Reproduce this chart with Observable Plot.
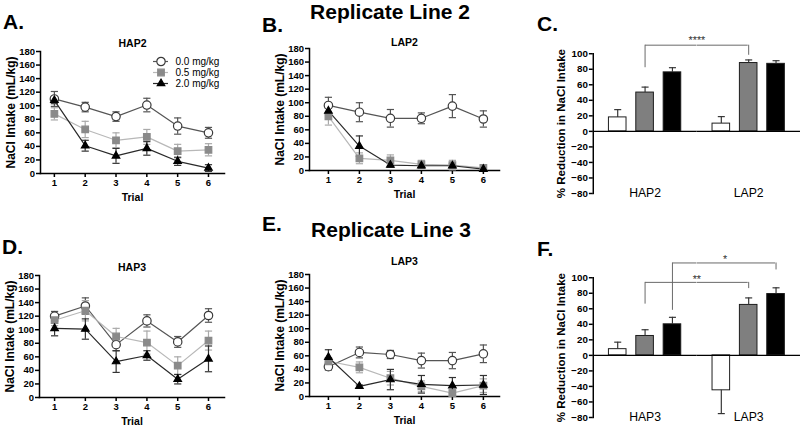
<!DOCTYPE html>
<html><head><meta charset="utf-8">
<script src="https://cdn.jsdelivr.net/npm/d3@7"></script>
<script src="https://cdn.jsdelivr.net/npm/@observablehq/plot@0.6"></script>
<style>
html,body{margin:0;padding:0;background:#fff;overflow:hidden}
#fig{position:relative;width:800px;height:427px;overflow:hidden;font-family:"Liberation Sans",Arial,sans-serif;color:#000}
.panel{position:absolute}
.panel svg{display:block;overflow:visible}
.letter{position:absolute;font-weight:bold;font-size:21px;line-height:1}
.rep{position:absolute;font-weight:bold;font-size:21px;line-height:1;white-space:nowrap;transform:translateX(-50%)}
</style></head><body><div id="fig"></div>
<script>
// ---------- data ----------
const trials = [1, 2, 3, 4, 5, 6];
const doses = ["0.0 mg/kg", "0.5 mg/kg", "2.0 mg/kg"];
const lineTicks = [0, 20, 40, 60, 80, 100, 120, 140, 160, 180];
const barTicks = [-80, -60, -40, -20, 0, 20, 40, 60, 80, 100];

// A. HAP2 (NaCl intake, mL/kg) per trial, one row per dose
const hap2Means = [[110, 98, 84, 101, 70, 60], [88, 65, 49, 54, 33, 35], [108, 41, 26, 37, 18, 8]];
const hap2Sems  = [[11, 7, 7, 10, 12, 8], [9, 12, 11, 11, 10, 9], [5, 8, 11, 10, 6, 5]];
// B. LAP2
const lap2Means = [[96, 86, 77, 77, 95, 76], [80, 18, 15, 9, 8, 4], [88, 36, 8, 7, 7, 2]];
const lap2Sems  = [[12, 14, 13, 8, 17, 12], [13, 8, 8, 6, 7, 3], [4, 15, 3, 3, 3, 2]];
// D. HAP3
const hap3Means = [[120, 135, 78, 113, 82, 121], [114, 128, 90, 81, 47, 84], [102, 101, 53, 62, 27, 57]];
const hap3Sems  = [[7, 12, 9, 9, 8, 10], [8, 15, 12, 17, 13, 14], [11, 15, 16, 7, 7, 19]];
// E. LAP3
const lap3Means = [[44, 65, 62, 53, 53, 63], [52, 43, 27, 15, 5, 16], [58, 15, 25, 18, 16, 17]];
const lap3Sems  = [[5, 8, 6, 11, 12, 13], [5, 8, 10, 8, 5, 10], [11, 2, 15, 13, 12, 14]];

// C. % reduction, Replicate Line 2
const line2Groups = ["HAP2", "LAP2"];
const line2Reduction = [[18, 50, 76], [10, 88, 87]];
const line2ReductionSem = [[10, 7, 6], [9, 4, 4]];
const line2Brackets = [{dose: "0.5 mg/kg", leftLow: 82, rightLow: 98, top: 111, label: "****", labelY: 121}];
// F. % reduction, Replicate Line 3
const line3Groups = ["HAP3", "LAP3"];
const line3Reduction = [[8, 25, 40], [-45, 65, 79]];
const line3ReductionSem = [[9, 8, 9], [30, 9, 8]];
const line3Brackets = [
  {dose: "0.5 mg/kg", leftLow: 66, rightLow: 86, top: 94, label: "**", labelY: 102},
  {dose: "2.0 mg/kg", leftLow: 58, rightLow: 110, top: 119, label: "*", labelY: 127}
];

// ---------- styles ----------
const FONT = '"Liberation Sans", Arial, sans-serif';
const seriesStyle = [
  {line: "#555", err: "#555", symbol: "circle", fill: "white", stroke: "#3a3a3a", r: 4.2},
  {line: "#b8b8b8", err: "#aaaaaa", symbol: "square", fill: "#8a8a8a", stroke: "#8a8a8a", r: 3.7},
  {line: "#2a2a2a", err: "#333", symbol: "triangle", fill: "black", stroke: "black", r: 2.8}
];
const cap = {draw(ctx, size) { const w = Math.sqrt(size / Math.PI); ctx.moveTo(-w, 0); ctx.lineTo(w, 0); }};

const fig = document.getElementById("fig");
function place(node, left, top) {
  const d = document.createElement("div");
  d.className = "panel"; d.style.left = left + "px"; d.style.top = top + "px";
  d.appendChild(node); fig.appendChild(d);
}
function addText(cls, txt, left, top) {
  const d = document.createElement("div");
  d.className = cls; d.textContent = txt; d.style.left = left + "px"; d.style.top = top + "px";
  fig.appendChild(d);
}
const centered = {textAnchor: "middle", lineAnchor: "middle"};

function linePanel({title, titleDy, means, sems, xDomain, width, marginLeft}) {
  const series = doses.map((dose, k) => trials.map((t, i) => ({dose, trial: t, mean: means[k][i], sem: sems[k][i]})));
  const marks = [
    Plot.frame({anchor: "left", stroke: "black", strokeWidth: 1.5}),
    Plot.frame({anchor: "bottom", stroke: "black", strokeWidth: 1.5}),
    Plot.axisY({ticks: lineTicks, tickSize: 4, tickPadding: 1.5, fontSize: 9.5, fontWeight: "bold", strokeWidth: 1.5, label: null}),
    Plot.axisX({ticks: trials, tickSize: 4, tickPadding: 2, fontSize: 9.5, fontWeight: "bold", strokeWidth: 1.5, label: null, tickFormat: d => String(d)}),
    Plot.text([title], {text: d => d, frameAnchor: "top", dy: -titleDy, fontWeight: "bold", fontSize: 10.5, ...centered}),
    Plot.text(["Trial"], {text: d => d, frameAnchor: "bottom", dy: 24, fontWeight: "bold", fontSize: 10.5, ...centered}),
    Plot.text(["NaCl Intake (mL/kg)"], {text: d => d, frameAnchor: "left", dx: -29, rotate: -90, fontWeight: "bold", fontSize: 12, ...centered})
  ];
  series.forEach((rows, k) => {
    const s = seriesStyle[k];
    marks.push(Plot.ruleX(rows, {x: "trial", y1: d => d.mean - d.sem, y2: d => d.mean + d.sem, stroke: s.err, strokeWidth: 1.2}));
    marks.push(Plot.dot(rows, {x: "trial", y: d => d.mean - d.sem, symbol: cap, r: 3.6, fill: "none", stroke: s.err, strokeWidth: 1.2}));
    marks.push(Plot.dot(rows, {x: "trial", y: d => d.mean + d.sem, symbol: cap, r: 3.6, fill: "none", stroke: s.err, strokeWidth: 1.2}));
  });
  series.forEach((rows, k) => {
    const s = seriesStyle[k];
    marks.push(Plot.line(rows, {x: "trial", y: "mean", stroke: s.line, strokeWidth: 1.2}));
  });
  series.forEach((rows, k) => {
    const s = seriesStyle[k];
    marks.push(Plot.dot(rows, {x: "trial", y: "mean", symbol: s.symbol, r: s.r, fill: s.fill, stroke: s.stroke, strokeWidth: 1.2}));
  });
  return Plot.plot({
    width, height: 175, marginLeft, marginRight: 6, marginTop: 21, marginBottom: 32,
    style: {fontFamily: FONT, background: "transparent", color: "black"},
    x: {domain: xDomain, axis: null},
    y: {domain: [0, 180], axis: null},
    marks
  });
}

function legendPanel() {
  const marks = [];
  doses.forEach((dose, k) => {
    const s = seriesStyle[k];
    marks.push(Plot.ruleY([dose], {y: d => d, stroke: s.line, strokeWidth: 1.2, insetRight: 65}));
    marks.push(Plot.dot([dose], {y: d => d, frameAnchor: "left", dx: 7.5, symbol: s.symbol, r: s.r, fill: s.fill, stroke: s.stroke, strokeWidth: 1.2}));
    marks.push(Plot.text([dose], {y: d => d, text: d => d, frameAnchor: "left", dx: 22, textAnchor: "start", lineAnchor: "middle", fontSize: 10}));
  });
  return Plot.plot({
    width: 80, height: 36, marginTop: 7, marginBottom: 7, marginLeft: 0, marginRight: 0,
    style: {fontFamily: FONT, background: "transparent", color: "black"},
    y: {type: "point", domain: doses, padding: 0, axis: null},
    marks
  });
}

function barPanel({groups, values, sems, brackets}) {
  const W = 266, H = 181, ML = 53, MR = 0, MT = 34, MB = 4;
  const pIn = 0.345, pOut = 0.51;
  const fw = (W - ML - MR) / groups.length;
  const step = fw / (doses.length - pIn + 2 * pOut), bw = step * (1 - pIn);
  const center = di => step * pOut + di * step + bw / 2;
  const rows = groups.flatMap((g, gi) => doses.map((dose, di) => ({group: g, dose, value: values[gi][di], sem: sems[gi][di]})));
  const tip = d => d.value + Math.sign(d.value) * d.sem;
  const marks = [
    Plot.barY(rows, {fx: "group", x: "dose", y: "value", fill: "dose", stroke: "#1a1a1a", strokeWidth: 1}),
    Plot.ruleX(rows, {fx: "group", x: "dose", y1: "value", y2: tip, stroke: "#333", strokeWidth: 1.2}),
    Plot.dot(rows, {fx: "group", x: "dose", y: tip, symbol: cap, r: 3.6, fill: "none", stroke: "#333", strokeWidth: 1.2}),
    Plot.ruleY([0], {stroke: "black", strokeWidth: 1.5}),
    Plot.frame({anchor: "left", facetAnchor: "left", stroke: "black", strokeWidth: 1.5}),
    Plot.axisY({ticks: barTicks, tickSize: 4, tickPadding: 1.5, fontSize: 10, fontWeight: "bold", strokeWidth: 1.5, label: null}),
    Plot.text([{group: groups[0], t: "% Reduction in NaCl Intake"}], {fx: "group", text: "t", frameAnchor: "left", dx: -33, rotate: -90, fontWeight: "bold", fontSize: 11.8, ...centered}),
    Plot.text(groups, {fx: d => d, text: d => d, frameAnchor: "bottom", dy: 0, fontSize: 12.5, ...centered})
  ];
  const first = doses[0], last = doses[doses.length - 1];
  brackets.forEach(b => {
    const di = doses.indexOf(b.dose);
    const st = {stroke: "#666", strokeWidth: 1};
    marks.push(Plot.ruleX([b], {fx: () => groups[0], x: "dose", y1: "leftLow", y2: "top", ...st}));
    marks.push(Plot.ruleX([b], {fx: () => groups[1], x: "dose", y1: "rightLow", y2: "top", ...st}));
    // horizontal part, split at the facet boundary
    marks.push(Plot.ruleY([b], {fx: () => groups[0], y: "top", x1: "dose", x2: () => last, insetLeft: bw / 2, insetRight: -step * pOut - 1, ...st}));
    marks.push(Plot.ruleY([b], {fx: () => groups[1], y: "top", x1: () => first, x2: "dose", insetLeft: -step * pOut - 1, insetRight: bw / 2, ...st}));
    marks.push(Plot.text([b], {fx: () => groups[0], y: "labelY", text: "label", frameAnchor: "right", dx: center(di) - fw / 2, dy: 3, fontSize: 11, fill: "#333", ...centered}));
  });
  return Plot.plot({
    width: W, height: H, marginLeft: ML, marginRight: MR, marginTop: MT, marginBottom: MB,
    style: {fontFamily: FONT, background: "transparent", color: "black"},
    fx: {domain: groups, padding: 0, axis: null},
    x: {domain: doses, paddingInner: pIn, paddingOuter: pOut, axis: null},
    y: {domain: [-80, 100], axis: null},
    color: {domain: doses, range: ["white", "#7f7f7f", "black"]},
    marks
  });
}

// ---------- layout ----------
place(linePanel({title: "HAP2", titleDy: 8, means: hap2Means, sems: hap2Sems, xDomain: [0.55, 6.52], width: 230, marginLeft: 40}), 0, 30);
place(legendPanel(), 153, 54);
place(linePanel({title: "LAP2", titleDy: 6, means: lap2Means, sems: lap2Sems, xDomain: [0.39, 6.52], width: 236, marginLeft: 40}), 269, 27);
place(barPanel({groups: line2Groups, values: line2Reduction, sems: line2ReductionSem, brackets: line2Brackets}), 540, 20);
place(linePanel({title: "HAP3", titleDy: 8, means: hap3Means, sems: hap3Sems, xDomain: [0.51, 6.52], width: 230, marginLeft: 39}), 0, 254);
place(linePanel({title: "LAP3", titleDy: 13, means: lap3Means, sems: lap3Sems, xDomain: [0.39, 6.52], width: 236, marginLeft: 40}), 269, 253);
place(barPanel({groups: line3Groups, values: line3Reduction, sems: line3ReductionSem, brackets: line3Brackets}), 540, 244);

addText("letter", "A.", 3, 11);
addText("letter", "B.", 262, 14);
addText("letter", "C.", 537, 13);
addText("letter", "D.", 2, 236);
addText("letter", "E.", 262, 213);
addText("letter", "F.", 537, 238);
addText("rep", "Replicate Line 2", 390, 1);
addText("rep", "Replicate Line 3", 391, 219);
</script></body></html>
